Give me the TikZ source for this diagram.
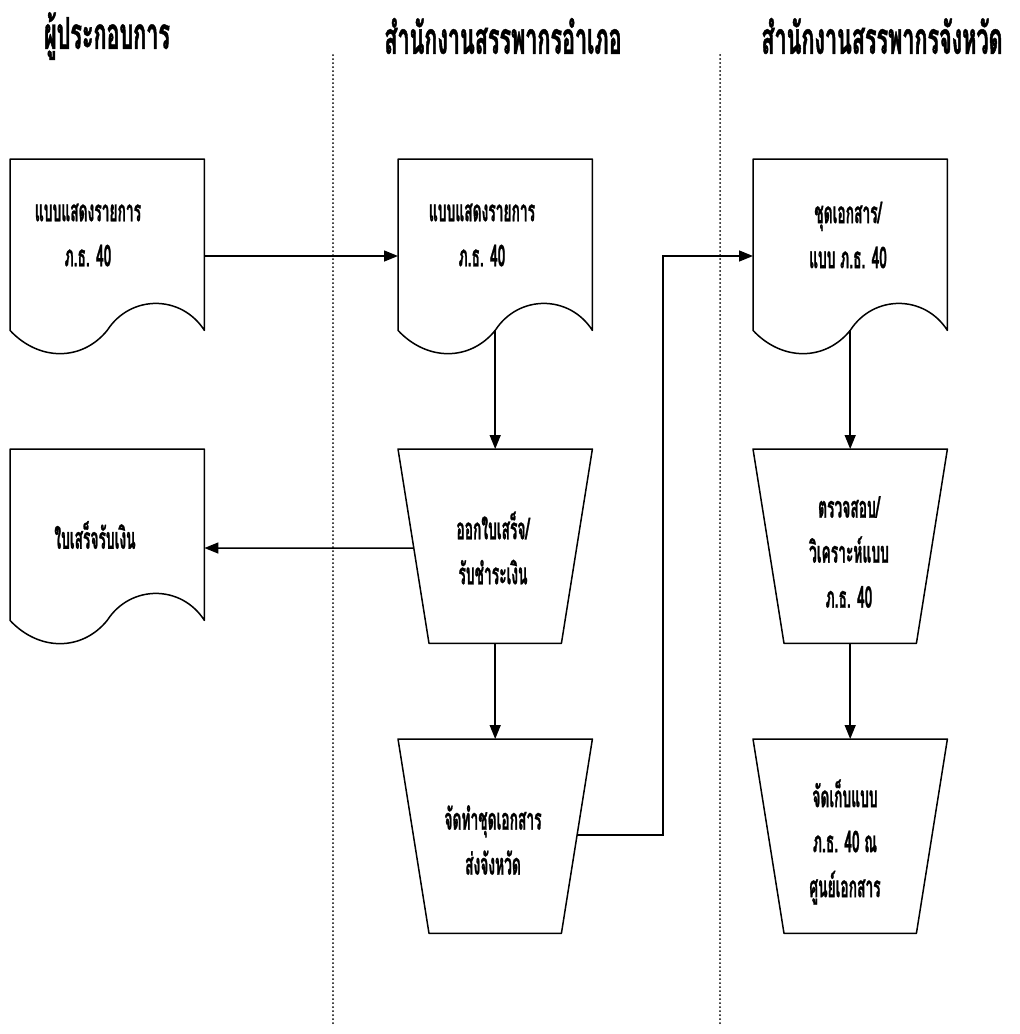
\documentclass[tikz,border=0pt]{standalone}
\usepackage{fontspec}
\newfontfamily\thaib[Script=Thai,FakeStretch=0.46,BoldFeatures={FakeBold=0.8}]{Loma}
\newfontfamily\thaih[Script=Thai,FakeStretch=0.49,BoldFeatures={FakeBold=1}]{Loma}
\usetikzlibrary{arrows.meta,calc}
\tikzset{
  shp/.style={line width=1.5pt, line join=round},
  box/.style={minimum width=194pt, minimum height=171pt, inner sep=0pt, anchor=north west},
  tbox/.style={minimum width=194pt, minimum height=194pt, inner sep=0pt, anchor=north west},
  conn/.style={line width=1.5pt, -{Triangle[length=14pt,width=11pt]}},
  lane/.style={line width=2pt, line cap=round, dash pattern=on 0pt off 4pt},
  body/.style={font=\thaib\bfseries\fontsize{30}{45}\selectfont, inner sep=0pt, align=center},
  head/.style={font=\thaih\bfseries\fontsize{44}{46}\selectfont, inner sep=0pt}
}
\newcommand\docshape[1]{%
  \draw[shp] (#1.north west) -- (#1.north east) -- (#1.south east)
    .. controls ($(#1.south east)+(-23,-36)$) and ($(#1.south east)+(-74,-36)$) .. ($(#1.south)$)
    .. controls ($(#1.south west)+(72,31)$) and ($(#1.south west)+(29,31)$) .. (#1.south west) -- cycle;}
\newcommand\trapshape[1]{%
  \draw[shp] (#1.north west) -- (#1.north east) -- ($(#1.south east)+(-31,0)$) -- ($(#1.south west)+(31,0)$) -- cycle;}
\begin{document}
\begin{tikzpicture}[x=1pt,y=-1pt]
\useasboundingbox[fill=white] (0,0) rectangle (1020,1034);
% lanes
\draw[lane] (333,55) -- (333,1025);
\draw[lane] (720,55) -- (720,1025);
% headings
\node[head] (h1) at (107,36) {ผู้ประกอบการ};
\node[head] (h2) at (503,36) {สำนักงานสรรพากรอำเภอ};
\node[head] (h3) at (882,36) {สำนักงานสรรพากรจังหวัด};
% documents
\node[box] (d1) at (10,159) {};
\node[box] (d2) at (398,159) {};
\node[box] (d3) at (753,159) {};
\node[box] (d4) at (10,449) {};
\docshape{d1}\docshape{d2}\docshape{d3}\docshape{d4}
% trapezoids
\node[tbox] (t1) at (398,449) {};
\node[tbox] (t2) at (398,739) {};
\node[tbox] (t3) at (753,449) {};
\node[tbox] (t4) at (753,739) {};
\trapshape{t1}\trapshape{t2}\trapshape{t3}\trapshape{t4}
% texts
\node[body] (x1) at (88,235) {แบบแสดงรายการ\\ภ.ธ. 40};
\node[body] (x2) at (482,235) {แบบแสดงรายการ\\ภ.ธ. 40};
\node[body] (x3) at (848,235) {ชุดเอกสาร/\\แบบ ภ.ธ. 40};
\node[body] (x4) at (95,535) {ใบเสร็จรับเงิน};
\node[body] (x5) at (493,548) {ออกใบเสร็จ/\\รับชำระเงิน};
\node[body] (x6) at (493,840) {จัดทำชุดเอกสาร\\ส่งจังหวัด};
\node[body] (x7) at (849,552) {ตรวจสอบ/\\วิเคราะห์แบบ\\ภ.ธ. 40};
\node[body] (x8) at (845,842) {จัดเก็บแบบ\\ภ.ธ. 40 ณ\\ศูนย์เอกสาร};
% connectors
\coordinate (s5) at ($(t1.north west)!0.51!($(t1.south west)+(31,0)$)$);
\coordinate (s6) at ($(t2.north east)!0.495!($(t2.south east)+(-31,0)$)$);
\coordinate (bend) at (663,256);
\draw[conn] ($(d1.north east)+(0,97)$) -- ($(d2.north west)+(0,97)$);
\draw[conn] (d2.south) -- (t1.north);
\draw[conn] (s5) -- ($(d4.north east)+(0,99)$);
\draw[conn] (t1.south) -- (t2.north);
\draw[conn] (s6) -| (bend) -- ($(d3.north west)+(0,97)$);
\draw[conn] (d3.south) -- (t3.north);
\draw[conn] (t3.south) -- (t4.north);
\end{tikzpicture}
\end{document}
